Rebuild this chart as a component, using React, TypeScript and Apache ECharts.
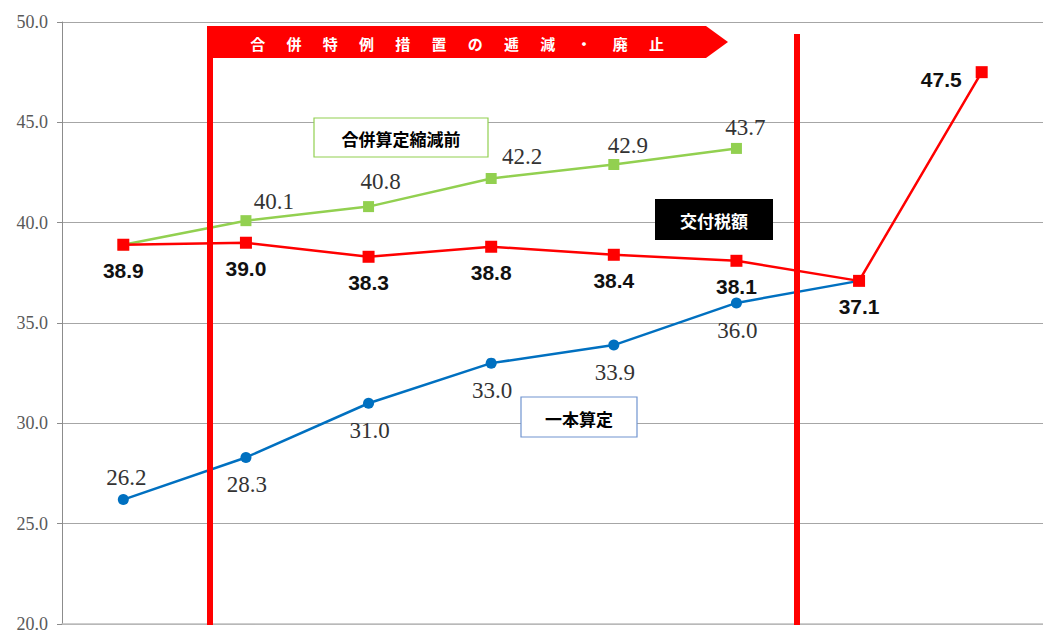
import React, { useEffect, useRef } from "react";
import * as echarts from "echarts";

const categories = ["1", "2", "3", "4", "5", "6", "7", "8"];
const taxValues = [38.9, 39.0, 38.3, 38.8, 38.4, 38.1, 37.1, 47.5];
const preReductionValues = [38.9, 40.1, 40.8, 42.2, 42.9, 43.7, null, null];
const unifiedValues = [26.2, 28.3, 31.0, 33.0, 33.9, 36.0, 37.1, null];
const yTicks = { min: 20, max: 50, interval: 5 };

const bannerChars = ["合", "併", "特", "例", "措", "置", "の", "逓", "減", "・", "廃", "止"];
const bannerText = bannerChars.join("\u3000\u2005\u2006");
const boxPre = "合併算定縮減前";
const boxTax = "交付税額";
const boxUnified = "一本算定";

// label placement styles (not data)
const greenLabelOffsets: ([number, number] | null)[] = [null, [28, 2], [12, -4], [31, -1], [14, 3], [9, 1], null, null];
const blueLabelPos = ["top", "bottom", "bottom", "bottom", "bottom", "bottom", null, null];

const SERIF = "'Liberation Serif', 'DejaVu Serif', serif";
const BOLDSANS = "'Liberation Sans Narrow', 'Liberation Sans', sans-serif";
const CJK = "'Noto Sans CJK JP', 'Noto Sans', sans-serif";

export default function App() {
  const ref = useRef<HTMLDivElement>(null);
  useEffect(() => {
    if (!ref.current) return;
    const chart = echarts.init(ref.current, undefined, { renderer: "svg" });

    const greenData = preReductionValues.map((v, i) => {
      const off = greenLabelOffsets[i];
      return {
        value: v,
        label: off
          ? { show: true, position: "top", distance: 5, offset: off }
          : { show: false },
      };
    });
    const blueData = unifiedValues.map((v, i) => {
      const p = blueLabelPos[i];
      return {
        value: v,
        label: p
          ? { show: true, position: p, distance: p === "top" ? 6 : 11, offset: p === "top" ? [3, 0] : [1, 0] }
          : { show: false },
      };
    });
    const redData = taxValues.map((v, i) => ({
      value: v,
      label:
        i === taxValues.length - 1
          ? { show: true, position: "left", distance: 14, offset: [0, 7] }
          : { show: true, position: "bottom", distance: 9 },
    }));

    const textStyle = (text: string, fill: string, size: number) => ({
      text,
      fill,
      font: `bold ${size}px ${CJK}`,
      textAlign: "center",
      align: "center",
      textVerticalAlign: "middle",
      verticalAlign: "middle",
    });

    chart.setOption({
      animation: false,
      backgroundColor: "#ffffff",
      grid: { left: 62, top: 22, width: 994, height: 603, containLabel: false },
      xAxis: {
        type: "category",
        data: categories,
        boundaryGap: true,
        axisLine: { show: true, lineStyle: { color: "#BFBFBF", width: 1.5 } },
        axisTick: { show: false },
        axisLabel: { show: false },
        splitLine: { show: false },
      },
      yAxis: {
        type: "value",
        min: yTicks.min,
        max: yTicks.max,
        interval: yTicks.interval,
        axisLine: { show: true, lineStyle: { color: "#8C8C8C", width: 1 } },
        axisTick: { show: true, length: 5, inside: false, lineStyle: { color: "#8C8C8C" } },
        axisLabel: {
          formatter: (v: number) => v.toFixed(1),
          fontFamily: SERIF,
          fontSize: 18,
          color: "#595959",
          margin: 14,
        },
        splitLine: { show: true, lineStyle: { color: "#A6A6A6", width: 1 } },
      },
      series: [
        {
          name: boxPre,
          type: "line",
          data: greenData,
          symbol: "rect",
          symbolSize: 11,
          lineStyle: { color: "#92D050", width: 2.5 },
          itemStyle: { color: "#92D050" },
          label: {
            fontFamily: SERIF,
            fontSize: 23,
            lineHeight: 22,
            color: "#333333",
            formatter: (p: any) => Number(p.value).toFixed(1),
          },
          z: 2,
        },
        {
          name: boxUnified,
          type: "line",
          data: blueData,
          symbol: "circle",
          symbolSize: 11,
          lineStyle: { color: "#0070C0", width: 2.5 },
          itemStyle: { color: "#0070C0" },
          label: {
            fontFamily: SERIF,
            fontSize: 23,
            lineHeight: 22,
            color: "#333333",
            formatter: (p: any) => Number(p.value).toFixed(1),
          },
          z: 3,
        },
        {
          name: boxTax,
          type: "line",
          data: redData,
          symbol: "rect",
          symbolSize: 12,
          lineStyle: { color: "#FF0000", width: 2.5 },
          itemStyle: { color: "#FF0000" },
          label: {
            fontFamily: BOLDSANS,
            fontWeight: "bold",
            fontSize: 21,
            lineHeight: 22,
            color: "#111111",
            formatter: (p: any) => Number(p.value).toFixed(1),
          },
          z: 4,
        },
      ],
      graphic: [
        {
          type: "polygon",
          z: 20,
          shape: {
            points: [
              [207, 26],
              [706, 26],
              [728, 42],
              [706, 58],
              [213, 58],
              [213, 625],
              [207, 625],
            ],
          },
          style: { fill: "#FF0000" },
        },
        {
          type: "text",
          z: 21,
          x: 457,
          y: 43,
          style: textStyle(bannerText, "#ffffff", 15),
        },
        {
          type: "rect",
          z: 20,
          shape: { x: 794, y: 34, width: 6, height: 591 },
          style: { fill: "#FF0000" },
        },
        {
          type: "rect",
          z: 20,
          shape: { x: 314, y: 118, width: 174, height: 39 },
          style: { fill: "#ffffff", stroke: "#92D050", lineWidth: 1.2 },
        },
        {
          type: "text",
          z: 21,
          x: 401,
          y: 138,
          style: textStyle(boxPre, "#000000", 17),
        },
        {
          type: "rect",
          z: 20,
          shape: { x: 655, y: 199, width: 118, height: 41 },
          style: { fill: "#000000" },
        },
        {
          type: "text",
          z: 21,
          x: 714,
          y: 220,
          style: textStyle(boxTax, "#ffffff", 17),
        },
        {
          type: "rect",
          z: 20,
          shape: { x: 521, y: 397, width: 116, height: 40 },
          style: { fill: "#ffffff", stroke: "#7094D0", lineWidth: 1.2 },
        },
        {
          type: "text",
          z: 21,
          x: 579,
          y: 418,
          style: textStyle(boxUnified, "#000000", 17),
        },
      ],
    });
    return () => chart.dispose();
  }, []);
  return (
    <div
      ref={ref}
      style={{ position: "fixed", left: 0, top: 0, width: 1043, height: 633, background: "#fff" }}
    />
  );
}
